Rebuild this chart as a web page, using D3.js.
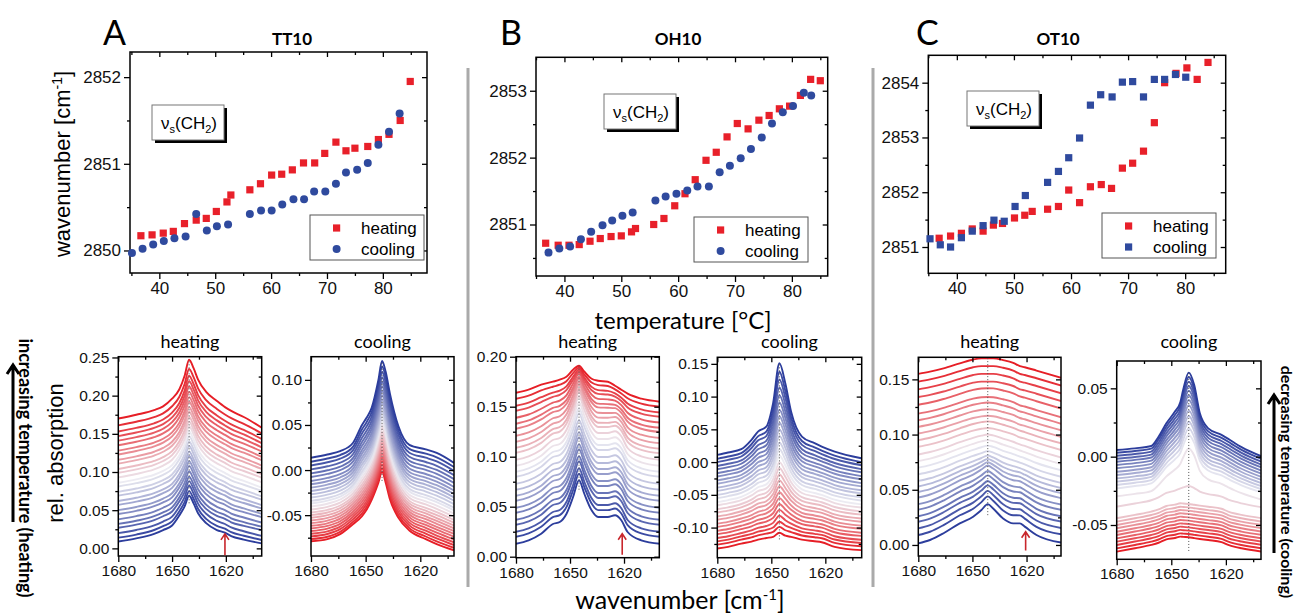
<!DOCTYPE html>
<html>
<head>
<meta charset="utf-8">
<script src="https://cdn.jsdelivr.net/npm/d3@7"></script>
<style>
  body { margin: 0; background: #fff; }
  svg text { font-family: "Liberation Sans", Arial, sans-serif; }
  .cal { font-family: Lato, "Open Sans", sans-serif; }
</style>
</head>
<body>
<div id="chart"></div>
<script>
// ---- top row: nu_s(CH2) position vs temperature, [T, wavenumber]
var tt10Heating = [[36.7,2850.17],[38.7,2850.18],[40.7,2850.20],[42.5,2850.22],[44.5,2850.31],[46.6,2850.35],
  [48.4,2850.37],[50.2,2850.45],[52.1,2850.56],[52.8,2850.64],[56.2,2850.70],[58.1,2850.77],[60.1,2850.87],
  [61.9,2850.88],[63.8,2850.93],[65.8,2851.01],[67.8,2851.01],[69.6,2851.12],[71.6,2851.25],[73.4,2851.15],
  [75.0,2851.18],[77.3,2851.20],[79.2,2851.28],[81.1,2851.34],[83.1,2851.50],[84.9,2851.95]];
var tt10Cooling = [[35.1,2849.97],[37.0,2850.02],[38.9,2850.07],[40.8,2850.11],[42.7,2850.14],[44.7,2850.16],
  [46.6,2850.42],[48.5,2850.23],[50.3,2850.28],[52.3,2850.30],[56.2,2850.42],[58.2,2850.46],[60.1,2850.46],
  [62.0,2850.53],[64.0,2850.59],[65.9,2850.59],[67.7,2850.68],[69.7,2850.68],[71.6,2850.77],[73.4,2850.90],
  [75.4,2850.93],[77.3,2851.01],[79.2,2851.22],[81.1,2851.37],[83.0,2851.58]];
var oh10Heating = [[36.7,2850.72],[38.9,2850.69],[40.8,2850.69],[42.6,2850.70],[44.5,2850.75],[46.3,2850.79],
  [48.2,2850.82],[50.0,2850.83],[51.8,2850.89],[52.5,2850.94],[55.7,2851.00],[57.5,2851.09],[59.4,2851.28],
  [61.2,2851.46],[63.0,2851.67],[64.9,2851.96],[66.7,2852.08],[68.6,2852.31],[70.4,2852.51],[72.3,2852.43],
  [74.2,2852.56],[76.0,2852.63],[77.8,2852.73],[79.6,2852.77],[81.5,2852.93],[83.3,2853.17],[85.0,2853.15]];
var oh10Cooling = [[37.2,2850.58],[39.1,2850.64],[41.0,2850.67],[42.9,2850.78],[44.7,2850.89],[46.7,2850.99],
  [48.4,2851.06],[50.2,2851.13],[52.0,2851.18],[56.0,2851.36],[57.8,2851.42],[59.7,2851.46],[61.6,2851.51],
  [63.4,2851.57],[65.4,2851.57],[67.3,2851.78],[69.1,2851.88],[71.0,2851.99],[72.8,2852.13],[74.7,2852.30],
  [76.5,2852.51],[78.4,2852.68],[80.2,2852.77],[82.1,2852.97],[83.4,2852.93]];
var ot10Heating = [[36.9,2851.16],[38.9,2851.20],[40.8,2851.25],[42.7,2851.33],[44.6,2851.29],[46.4,2851.40],
  [48.0,2851.43],[50.1,2851.53],[51.9,2851.58],[53.2,2851.65],[55.9,2851.69],[57.8,2851.74],[59.6,2852.04],
  [61.5,2851.81],[63.4,2852.10],[65.3,2852.14],[67.1,2852.07],[69.0,2852.44],[70.8,2852.53],[72.7,2852.75],
  [74.6,2853.27],[76.4,2854.00],[78.4,2854.17],[80.3,2854.27],[82.1,2854.06],[84.0,2854.37]];
var ot10Cooling = [[35.3,2851.15],[37.1,2851.04],[38.9,2851.00],[40.8,2851.17],[42.7,2851.29],[44.6,2851.39],
  [46.5,2851.49],[48.3,2851.47],[50.2,2851.74],[52.0,2851.94],[55.9,2852.18],[57.8,2852.38],[59.6,2852.63],
  [61.5,2852.99],[63.4,2853.59],[65.2,2853.78],[67.2,2853.74],[69.0,2854.01],[70.8,2854.02],[72.7,2853.74],
  [74.6,2854.06],[76.4,2854.06],[78.3,2854.15],[80.1,2854.10]];

// ---- bottom row: amide I spectra. lowest and highest trace of each stack,
// plus each trace's value at 1680 cm-1 and at the band maximum
var aHeatWn   = [1680,1670,1660,1655,1650,1646,1643,1640.5,1638,1635.5,1631,1625,1620.5,1617,1610,1600];
var aHeatLow  = [0.009,0.013,0.019,0.024,0.030,0.043,0.055,0.069,0.059,0.046,0.033,0.024,0.0205,0.016,0.0115,0.0065];
var aHeatHigh = [0.170,0.175,0.181,0.186,0.196,0.208,0.226,0.247,0.236,0.221,0.205,0.193,0.185,0.180,0.172,0.158];
var aHeatLevels = [0.009,0.014,0.020,0.027,0.032,0.038,0.045,0.050,0.057,0.062,0.069,0.074,0.081,0.086,0.093,0.099,0.104,0.111,0.116,0.123,0.128,0.135,0.141,0.147,0.153,0.161,0.170];
var aHeatPeaks  = [0.069,0.075,0.082,0.088,0.094,0.101,0.108,0.114,0.121,0.127,0.134,0.140,0.147,0.153,0.160,0.166,0.172,0.179,0.185,0.192,0.198,0.205,0.212,0.219,0.226,0.235,0.247];

var aCoolWn   = [1680,1671,1664,1657,1652,1649.5,1646.7,1643,1641,1639,1636.7,1632,1626,1617,1611,1601.5];
var aCoolLow  = [-0.079,-0.0765,-0.071,-0.060,-0.051,-0.044,-0.033,-0.014,-0.002,-0.014,-0.032,-0.053,-0.067,-0.0765,-0.082,-0.089];
var aCoolHigh = [0.0136,0.0173,0.021,0.030,0.050,0.058,0.069,0.100,0.121,0.109,0.085,0.0485,0.028,0.023,0.019,0.008];
var aCoolLevels = [-0.079,-0.0765,-0.0735,-0.0706,-0.0676,-0.0647,-0.0618,-0.0588,-0.0559,-0.0529,-0.050,-0.0471,-0.0438,-0.0404,-0.0371,-0.0342,-0.0305,-0.0268,-0.0232,-0.0195,-0.0158,-0.0121,-0.0077,-0.0037,0.0007,0.0051,0.0092,0.0136];
var aCoolPeaks  = [-0.002,0.002,0.006,0.010,0.014,0.018,0.022,0.026,0.030,0.034,0.038,0.042,0.047,0.051,0.056,0.060,0.065,0.069,0.074,0.078,0.083,0.088,0.093,0.098,0.103,0.109,0.115,0.121];

var bHeatWn   = [1680,1673,1666,1659.5,1655.7,1652,1648.3,1645,1642,1638,1634.4,1629,1625,1621.5,1618,1610.4,1600];
var bHeatLow  = [0.0133,0.0167,0.0233,0.033,0.035,0.043,0.060,0.0767,0.063,0.0467,0.040,0.040,0.0417,0.0367,0.025,0.0167,0.0133];
var bHeatHigh = [0.164,0.167,0.172,0.175,0.177,0.180,0.187,0.191,0.185,0.178,0.176,0.175,0.171,0.167,0.163,0.158,0.155];
var bHeatLevels = [0.013,0.020,0.025,0.032,0.037,0.044,0.049,0.056,0.061,0.067,0.073,0.080,0.085,0.091,0.097,0.104,0.109,0.115,0.121,0.128,0.133,0.139,0.146,0.151,0.158,0.164];
var bHeatPeaks  = [0.077,0.083,0.090,0.097,0.103,0.110,0.117,0.123,0.129,0.135,0.141,0.147,0.152,0.157,0.161,0.165,0.168,0.172,0.175,0.178,0.180,0.183,0.185,0.187,0.189,0.191];

var bCoolWn   = [1680,1674,1666.7,1661,1657.4,1652.8,1649,1645.5,1642.2,1639,1633,1626,1622,1614.8,1600];
var bCoolLow  = [-0.1316,-0.129,-0.124,-0.121,-0.118,-0.1155,-0.1137,-0.1076,-0.112,-0.1137,-0.118,-0.1205,-0.122,-0.129,-0.134];
var bCoolHigh = [0.011,0.0146,0.0197,0.034,0.0466,0.054,0.090,0.151,0.120,0.077,0.039,0.0288,0.0237,0.016,0.0058];
var bCoolLevels = [-0.132,-0.126,-0.121,-0.116,-0.110,-0.105,-0.099,-0.094,-0.088,-0.083,-0.077,-0.072,-0.066,-0.061,-0.055,-0.050,-0.044,-0.039,-0.033,-0.028,-0.022,-0.017,-0.011,-0.006,0.000,0.005,0.011];
var bCoolPeaks  = [-0.108,-0.099,-0.091,-0.082,-0.073,-0.064,-0.055,-0.046,-0.037,-0.028,-0.019,-0.009,0.000,0.010,0.020,0.030,0.040,0.050,0.060,0.070,0.080,0.091,0.102,0.114,0.126,0.138,0.151];

var cHeatWn   = [1680,1673.5,1666,1657,1649.6,1645,1641.5,1638.5,1633,1627.4,1623.7,1621,1614.5,1600];
var cHeatLow  = [0.0015,0.0045,0.0106,0.0196,0.0256,0.0317,0.037,0.033,0.024,0.0196,0.0196,0.0166,0.009,0.002];
var cHeatHigh = [0.155,0.157,0.160,0.1645,0.168,0.169,0.169,0.169,0.1675,0.165,0.162,0.161,0.158,0.151];
var cHeatLevels = [0.0015,0.009,0.015,0.021,0.026,0.032,0.037,0.043,0.048,0.053,0.058,0.064,0.070,0.076,0.082,0.089,0.095,0.101,0.107,0.113,0.119,0.127,0.134,0.141,0.148,0.155];
var cHeatPeaks  = [0.037,0.044,0.049,0.054,0.058,0.063,0.067,0.072,0.075,0.078,0.081,0.085,0.090,0.095,0.100,0.106,0.112,0.117,0.123,0.129,0.134,0.142,0.148,0.155,0.162,0.169];

var cCoolWn   = [1680,1670,1661,1657,1652.7,1648,1645,1643.5,1640.4,1637.4,1634.3,1629.7,1622.4,1618.7,1615,1611.4,1600];
var cCoolLow  = [-0.0695,-0.067,-0.0646,-0.063,-0.0605,-0.0595,-0.0585,-0.0587,-0.059,-0.0596,-0.0602,-0.061,-0.0625,-0.0646,-0.066,-0.067,-0.0695];
var cCoolHigh = [0.0049,0.0061,0.0078,0.0146,0.0244,0.033,0.040,0.0488,0.0615,0.0524,0.0317,0.0207,0.0159,0.013,0.0098,0.007,0.0];
var cCoolLevels = [-0.0695,-0.0671,-0.0646,-0.0622,-0.0598,-0.0573,-0.0549,-0.0524,-0.0500,-0.0476,-0.0451,-0.0366,-0.0290,-0.0232,-0.0207,-0.0183,-0.0159,-0.0134,-0.0110,-0.0085,-0.0061,-0.0037,-0.0015,0.0007,0.0029,0.0049];
var cCoolPeaks  = [-0.0590,-0.0566,-0.0541,-0.0517,-0.0493,-0.0468,-0.0444,-0.0420,-0.0395,-0.0371,-0.0346,-0.0215,0.0060,0.0159,0.0207,0.0256,0.0298,0.0337,0.0376,0.0415,0.0449,0.0483,0.0517,0.0549,0.0583,0.0615];

// band maximum of each panel [cm-1]
var bandMax = {aHeat: 1640.5, aCool: 1641, bHeat: 1645, bCool: 1645.5, cHeat: 1641.5, cCool: 1640.4};

var svg = d3.select("#chart").append("svg")
    .attr("width", 1299)
    .attr("height", 615);

var red = "#e8202a", blue = "#2f4a9e";
var traceColor = d3.piecewise(d3.interpolateRgb, ["#2c3d9c", "#ecebf2", "#e61e26"]);
var fmt2 = function(d) { return d.toFixed(2); };

function frameAxes(g, x, y, o) {
  var l = x.range()[0], r = x.range()[1], b = y.range()[0], t = y.range()[1];
  function ax(axis, tr, vals, size, labels) {
    var a = g.append("g").attr("transform", tr)
      .call(axis.tickValues(vals).tickSize(size).tickSizeOuter(0).tickPadding(3)
        .tickFormat(labels || function() { return ""; }));
    a.select(".domain").remove();
    a.selectAll("line").attr("stroke", "#000").attr("stroke-width", 1.3);
    a.selectAll("text").attr("fill", "#111").style("font-size", o.fs + "px");
    return a;
  }
  ax(d3.axisBottom(x), "translate(0," + b + ")", o.xt, 6, o.xf);
  ax(d3.axisBottom(x), "translate(0," + b + ")", o.xm, 3);
  ax(d3.axisLeft(y), "translate(" + l + ",0)", o.yt, 6, o.yf);
  ax(d3.axisLeft(y), "translate(" + l + ",0)", o.ym, 3);
  ax(d3.axisTop(x), "translate(0," + t + ")", o.xt, -5);
  ax(d3.axisTop(x), "translate(0," + t + ")", o.xm, -3);
  ax(d3.axisRight(y), "translate(" + r + ",0)", o.yt, -5);
  ax(d3.axisRight(y), "translate(" + r + ",0)", o.ym, -3);
  g.append("rect").attr("x", l).attr("y", t).attr("width", r - l).attr("height", b - t)
    .attr("fill", "none").attr("stroke", "#000").attr("stroke-width", 1.5);
}

function drawTop(c) {
  var g = svg.append("g");
  var x = d3.scaleLinear().domain(c.xd).range(c.xr);
  var y = d3.scaleLinear().domain(c.yd).range(c.yr);
  frameAxes(g, x, y, {xt: [40, 50, 60, 70, 80], xm: [35, 45, 55, 65, 75, 85],
    yt: c.yt, ym: c.ym, fs: 17, xf: d3.format("d"), yf: d3.format("d")});

  // nu_s(CH2) label box with shadow
  var bx = c.box[0], by = c.box[1], bw = 72, bh = 35;
  g.append("rect").attr("x", bx + 3).attr("y", by + 3).attr("width", bw).attr("height", bh).attr("fill", "#000");
  g.append("rect").attr("x", bx).attr("y", by).attr("width", bw).attr("height", bh)
    .attr("fill", "#fff").attr("stroke", "#777").attr("stroke-width", 1);
  var lt = g.append("text").attr("x", bx + 9).attr("y", by + 24).style("font-size", "17px");
  lt.append("tspan").text("ν");
  lt.append("tspan").attr("dy", 4).style("font-size", "11px").text("s");
  lt.append("tspan").attr("dy", -4).text("(CH");
  lt.append("tspan").attr("dy", 4).style("font-size", "11px").text("2");
  lt.append("tspan").attr("dy", -4).text(")");

  function marks(data, shape, col) {
    if (shape === "square") {
      g.append("g").selectAll("rect").data(data).enter().append("rect")
        .attr("x", function(d) { return x(d[0]) - 3.6; })
        .attr("y", function(d) { return y(d[1]) - 3.6; })
        .attr("width", 7.2).attr("height", 7.2).attr("fill", col);
    } else {
      g.append("g").selectAll("circle").data(data).enter().append("circle")
        .attr("cx", function(d) { return x(d[0]); })
        .attr("cy", function(d) { return y(d[1]); })
        .attr("r", 4).attr("fill", col);
    }
  }
  marks(c.heating, "square", red);
  marks(c.cooling, c.coolShape, blue);

  // legend
  var L = c.leg;
  g.append("rect").attr("x", L[0]).attr("y", L[1]).attr("width", 114).attr("height", 45)
    .attr("fill", "#fff").attr("stroke", "#555").attr("stroke-width", 1);
  [["heating", "square", red], ["cooling", c.coolShape, blue]].forEach(function(e, i) {
    var cy = L[1] + 13 + i * 21;
    if (e[1] === "square") {
      g.append("rect").attr("x", L[0] + 23).attr("y", cy - 3.6).attr("width", 7.2).attr("height", 7.2).attr("fill", e[2]);
    } else {
      g.append("circle").attr("cx", L[0] + 26.6).attr("cy", cy).attr("r", 4).attr("fill", e[2]);
    }
    g.append("text").attr("x", L[0] + 51).attr("y", cy + 6).style("font-size", "17px").text(e[0]);
  });

  g.append("text").attr("class", "cal").attr("x", c.letter[0]).attr("y", 45)
    .style("font-size", "34px").text(c.letter[1]);
  g.append("text").attr("class", "cal").attr("x", c.title[0]).attr("y", 45)
    .attr("text-anchor", "middle").style("font-size", "17px").style("font-weight", 700).text(c.title[1]);
}

function buildTraces(wn, low, high, levels, peaks, pkWn) {
  var pk = wn.indexOf(pkWn);
  var lowRel = low[pk] - low[0], highRel = high[pk] - high[0];
  return levels.map(function(lv, i) {
    var m = (peaks[i] - lv - lowRel) / (highRel - lowRel);
    m = Math.max(0, Math.min(1, m));
    return wn.map(function(w, j) {
      return [w, lv + (1 - m) * (low[j] - low[0]) + m * (high[j] - high[0])];
    });
  });
}

var clipId = 0;
function drawSpectra(c) {
  var g = svg.append("g");
  var x = d3.scaleLinear().domain(c.xd).range(c.xr);
  var y = d3.scaleLinear().domain(c.yd).range(c.yr);
  var traces = buildTraces(c.wn, c.low, c.high, c.levels, c.peaks, c.pk);
  var id = "clip" + (clipId++);
  g.append("clipPath").attr("id", id).append("rect")
    .attr("x", c.xr[0]).attr("y", c.yr[1]).attr("width", c.xr[1] - c.xr[0]).attr("height", c.yr[0] - c.yr[1]);
  var line = d3.line()
    .x(function(d) { return x(d[0]); })
    .y(function(d) { return y(d[1]); })
    .curve(d3.curveMonotoneX);
  var n = traces.length;
  g.append("g").attr("clip-path", "url(#" + id + ")")
    .selectAll("path").data(traces).enter().append("path")
    .attr("d", line)
    .attr("fill", "none")
    .attr("stroke-width", 1.9)
    .attr("stroke", function(d, i) {
      var t = i / (n - 1);
      return traceColor(c.heating ? t : 1 - t);
    });
  // dotted marker at band maximum
  g.append("line").attr("x1", x(c.pk)).attr("x2", x(c.pk))
    .attr("y1", y(c.peaks[0] - 0.01)).attr("y2", y(d3.max(c.peaks)))
    .attr("stroke", "#555").attr("stroke-width", 1).attr("stroke-dasharray", "1,2");

  frameAxes(g, x, y, {xt: [1680, 1650, 1620], xm: [1665, 1635, 1605],
    yt: c.yt, ym: c.ym, fs: 15.5, xf: d3.format("d"), yf: fmt2});

  g.append("text").attr("class", "cal").attr("x", (c.xr[0] + c.xr[1]) / 2).attr("y", 348)
    .attr("text-anchor", "middle").style("font-size", "18px").text(c.heating ? "heating" : "cooling");

  if (c.arrow) {
    var ax = x(c.arrow[0]), y1 = y(c.arrow[1]), y2 = y(c.arrow[2]);
    g.append("path").attr("d", "M" + ax + "," + y1 + "V" + y2 + "M" + (ax - 4) + "," + (y2 + 6) + "L" + ax + "," + y2 + "L" + (ax + 4) + "," + (y2 + 6))
      .attr("fill", "none").attr("stroke", "#c8262c").attr("stroke-width", 1.6);
  }
}

drawTop({xd: [34.75, 87.9], xr: [130, 427], yd: [2849.74, 2852.29], yr: [273, 52],
  yt: [2850, 2851, 2852], ym: [2850.5, 2851.5], heating: tt10Heating, cooling: tt10Cooling,
  coolShape: "circle", box: [152, 105], leg: [310, 215], letter: [103, "A"], title: [292, "TT10"]});
drawTop({xd: [35.0, 86.3], xr: [536, 827.7], yd: [2850.23, 2853.5], yr: [276, 57.3],
  yt: [2851, 2852, 2853], ym: [2850.5, 2851.5, 2852.5], heating: oh10Heating, cooling: oh10Cooling,
  coolShape: "circle", box: [604, 94], leg: [694, 217], letter: [500, "B"], title: [678, "OH10"]});
drawTop({xd: [35.0, 87.1], xr: [928.3, 1225.7], yd: [2850.52, 2854.5], yr: [273.3, 55.3],
  yt: [2851, 2852, 2853, 2854], ym: [2851.5, 2852.5, 2853.5], heating: ot10Heating, cooling: ot10Cooling,
  coolShape: "square", box: [967, 91], leg: [1102, 213], letter: [916, "C"], title: [1058, "OT10"]});

drawSpectra({heating: true, xd: [1680, 1600], xr: [118.3, 261.7], yd: [-0.010, 0.251], yr: [556, 356.7],
  yt: [0, 0.05, 0.10, 0.15, 0.20, 0.25], ym: [0.025, 0.075, 0.125, 0.175, 0.225], pk: bandMax.aHeat,
  wn: aHeatWn, low: aHeatLow, high: aHeatHigh, levels: aHeatLevels, peaks: aHeatPeaks, arrow: [1620.5, -0.009, 0.019]});
drawSpectra({heating: false, xd: [1680, 1601.5], xr: [311, 454], yd: [-0.0953, 0.1257], yr: [556, 356.7],
  yt: [-0.05, 0, 0.05, 0.10], ym: [-0.075, -0.025, 0.025, 0.075], pk: bandMax.aCool,
  wn: aCoolWn, low: aCoolLow, high: aCoolHigh, levels: aCoolLevels, peaks: aCoolPeaks});
drawSpectra({heating: true, xd: [1680, 1600.4], xr: [516, 659.3], yd: [-0.001, 0.20], yr: [557.7, 356.7],
  yt: [0, 0.05, 0.10, 0.15, 0.20], ym: [0.025, 0.075, 0.125, 0.175], pk: bandMax.bHeat,
  wn: bHeatWn, low: bHeatLow, high: bHeatHigh, levels: bHeatLevels, peaks: bHeatPeaks, arrow: [1621, 0.002, 0.023]});
drawSpectra({heating: false, xd: [1680, 1599.8], xr: [717.3, 861.7], yd: [-0.146, 0.160], yr: [557.7, 357.3],
  yt: [-0.10, -0.05, 0, 0.05, 0.10, 0.15], ym: [-0.125, -0.075, -0.025, 0.025, 0.075, 0.125], pk: bandMax.bCool,
  wn: bCoolWn, low: bCoolLow, high: bCoolHigh, levels: bCoolLevels, peaks: bCoolPeaks});
drawSpectra({heating: true, xd: [1680, 1600.9], xr: [918.3, 1061], yd: [-0.010, 0.170], yr: [556, 357.3],
  yt: [0, 0.05, 0.10, 0.15], ym: [0.025, 0.075, 0.125], pk: bandMax.cHeat,
  wn: cHeatWn, low: cHeatLow, high: cHeatHigh, levels: cHeatLevels, peaks: cHeatPeaks, arrow: [1620.5, -0.005, 0.012]});
drawSpectra({heating: false, xd: [1680, 1600.7], xr: [1116.7, 1261], yd: [-0.0751, 0.070], yr: [559.3, 361],
  yt: [-0.05, 0, 0.05], ym: [-0.025, 0.025], pk: bandMax.cCool,
  wn: cCoolWn, low: cCoolLow, high: cCoolHigh, levels: cCoolLevels, peaks: cCoolPeaks});

// separators between the compound columns
[468, 873].forEach(function(sx) {
  svg.append("line").attr("x1", sx).attr("x2", sx).attr("y1", 68).attr("y2", 587)
    .attr("stroke", "#aaa").attr("stroke-width", 3);
});

// axis titles
var yl = svg.append("text").attr("transform", "translate(70,164) rotate(-90)")
  .attr("text-anchor", "middle").style("font-size", "22px");
yl.append("tspan").text("wavenumber [cm");
yl.append("tspan").attr("dy", -8).style("font-size", "14px").text("-1");
yl.append("tspan").attr("dy", 8).text("]");

svg.append("text").attr("transform", "translate(63,453) rotate(-90)")
  .attr("text-anchor", "middle").style("font-size", "22px").text("rel. absorption");

svg.append("text").attr("class", "cal").attr("x", 683).attr("y", 329)
  .attr("text-anchor", "middle").style("font-size", "24px").text("temperature [°C]");

var xl = svg.append("text").attr("class", "cal").attr("x", 680).attr("y", 609)
  .attr("text-anchor", "middle").style("font-size", "25px");
xl.append("tspan").text("wavenumber [cm");
xl.append("tspan").attr("dy", -9).style("font-size", "15px").text("-1");
xl.append("tspan").attr("dy", 9).text("]");

// side arrows
function sideArrow(ax, yFrom, yTo) {
  svg.append("path").attr("d", "M" + ax + "," + yFrom + "V" + (yTo + 2) +
      "M" + (ax - 6) + "," + (yTo + 9) + "L" + ax + "," + yTo + "L" + (ax + 6) + "," + (yTo + 9))
    .attr("fill", "none").attr("stroke", "#000").attr("stroke-width", 3);
}
sideArrow(13, 522, 365);
sideArrow(1274, 553, 395);
svg.append("text").attr("class", "cal").attr("transform", "translate(19,468) rotate(90)")
  .attr("text-anchor", "middle").style("font-size", "18px").style("font-weight", 700)
  .text("increasing temperature (heating)");
svg.append("text").attr("class", "cal").attr("transform", "translate(1281,482) rotate(90)")
  .attr("text-anchor", "middle").style("font-size", "16px").style("font-weight", 700)
  .text("decreasing temperature (cooling)");
</script>
</body>
</html>
